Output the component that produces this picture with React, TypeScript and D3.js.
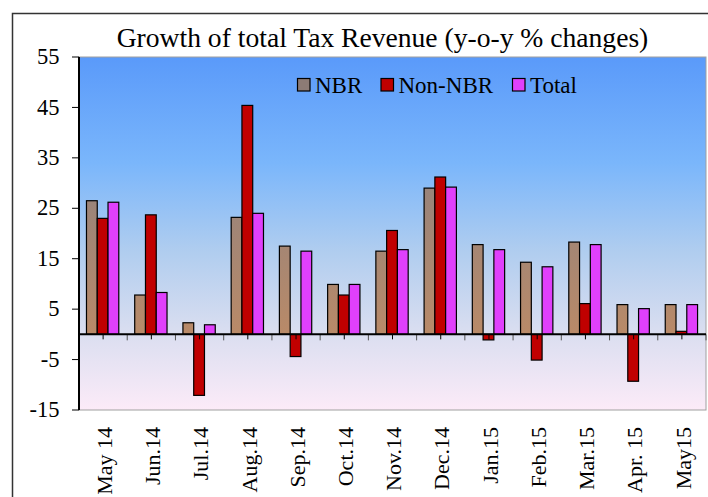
import React from "react";
import * as d3 from "d3";

const categories = ["May 14", "Jun.14", "Jul.14", "Aug.14", "Sep.14", "Oct.14", "Nov.14", "Dec.14", "Jan.15", "Feb.15", "Mar.15", "Apr. 15", "May15"];
const nbr = [26.5, 7.8, 2.3, 23.2, 17.5, 9.9, 16.5, 29.0, 17.8, 14.3, 18.3, 5.9, 5.9];
const nonNbr = [23.0, 23.7, -12.1, 45.4, -4.4, 7.8, 20.6, 31.2, -1.1, -5.1, 6.1, -9.3, 0.6];
const total = [26.2, 8.3, 1.9, 24.0, 16.5, 9.9, 16.8, 29.2, 16.8, 13.4, 17.8, 5.1, 5.9];
const seriesNames = ["NBR", "Non-NBR", "Total"];
const yTicks = [-15, -5, 5, 15, 25, 35, 45, 55];
const title = "Growth of total Tax Revenue (y-o-y % changes)";

const FONT = "'Liberation Serif', 'Times New Roman', serif";

export default function App() {
  const W = 708, H = 497;
  const left = 79, right = 706, top = 57, bottom = 410;
  const x = d3.scaleBand<string>().domain(categories).range([left, right]).padding(0);
  const step = x.bandwidth();
  const inner = d3.scaleBand<string>().domain(seriesNames).range([step * 0.155, step * 0.825]).padding(0);
  const y = d3.scaleLinear().domain([-15, 55]).range([bottom, top]);
  const y0 = y(0);
  const data = [nbr, nonNbr, total];
  const fills = ["url(#nbrGrad)", "#c00000", "#e040fb"];
  const legendFills = ["#8c7b75", "#c00000", "#e040fb"];
  const legendX = [297.5, 381, 512.5];

  return (
    <svg width={W} height={H} style={{ position: "absolute", left: 0, top: 0 }} fontFamily={FONT}>
      <defs>
        <linearGradient id="bgGrad" x1="0" y1="0" x2="0" y2="1">
          <stop offset="0%" stopColor="#5a9afa" />
          <stop offset="30%" stopColor="#7ab6fb" />
          <stop offset="55%" stopColor="#b0cdef" />
          <stop offset="78%" stopColor="#dadef0" />
          <stop offset="100%" stopColor="#fcebf8" />
        </linearGradient>
        <linearGradient id="nbrGrad" gradientUnits="userSpaceOnUse" x1="0" y1={top} x2="0" y2={y0}>
          <stop offset="0%" stopColor="#8a8288" />
          <stop offset="50%" stopColor="#9a847a" />
          <stop offset="100%" stopColor="#b98a68" />
        </linearGradient>
      </defs>
      <rect x={0} y={0} width={W} height={H} fill="#ffffff" />
      <rect x={12.5} y={13.5} width={W + 20} height={H + 20} fill="none" stroke="#333" strokeWidth={1.5} />
      <text x={382.5} y={46.7} textAnchor="middle" fontSize={27.6} fill="#000">{title}</text>

      <rect x={left} y={top} width={right - left} height={bottom - top} fill="url(#bgGrad)" stroke="#a0a0a0" strokeWidth={1} />

      {data.map((vals, si) =>
        vals.map((v, i) => {
          const bx = (x(categories[i]) as number) + (inner(seriesNames[si]) as number);
          const yy = y(Math.max(0, v));
          const hh = Math.abs(y(v) - y0);
          return (
            <rect key={`${si}-${i}`} x={bx} y={yy} width={inner.bandwidth()} height={hh}
              fill={fills[si]} stroke="#000" strokeWidth={1.2} />
          );
        })
      )}

      {/* x ticks: boundaries and centers */}
      {categories.map((c, i) => (
        <g key={`xt${i}`}>
          <line x1={(x(c) as number) + step} x2={(x(c) as number) + step} y1={y0} y2={y0 + 6} stroke="#555" strokeWidth={1} />
          <line x1={(x(c) as number) + step / 2} x2={(x(c) as number) + step / 2} y1={y0} y2={y0 + 5} stroke="#000" strokeWidth={1} />
        </g>
      ))}
      <line x1={left} x2={right} y1={y0} y2={y0} stroke="#000" strokeWidth={2} />

      {/* y axis */}
      <line x1={left} x2={left} y1={top} y2={bottom} stroke="#000" strokeWidth={2} />
      {yTicks.map((t) => (
        <g key={`yt${t}`}>
          <line x1={left - 7} x2={left} y1={y(t)} y2={y(t)} stroke="#000" strokeWidth={1} />
          <text x={59.5} y={y(t)} dy="0.32em" textAnchor="end" fontSize={22.5} fill="#000">{t}</text>
        </g>
      ))}

      {/* x labels */}
      {categories.map((c) => (
        <text key={`xl${c}`} transform={`translate(${(x(c) as number) + step / 2 + 1},427) rotate(-90)`}
          dy="0.35em" textAnchor="end" fontSize={22} fill="#000">{c}</text>
      ))}

      {/* legend */}
      {seriesNames.map((s, i) => (
        <g key={`lg${s}`}>
          <rect x={legendX[i]} y={78.5} width={12.5} height={12.5} fill={legendFills[i]} stroke="#000" strokeWidth={1.2} />
          <text x={legendX[i] + 17.5} y={92.7} fontSize={23} fill="#000">{s}</text>
        </g>
      ))}
    </svg>
  );
}
